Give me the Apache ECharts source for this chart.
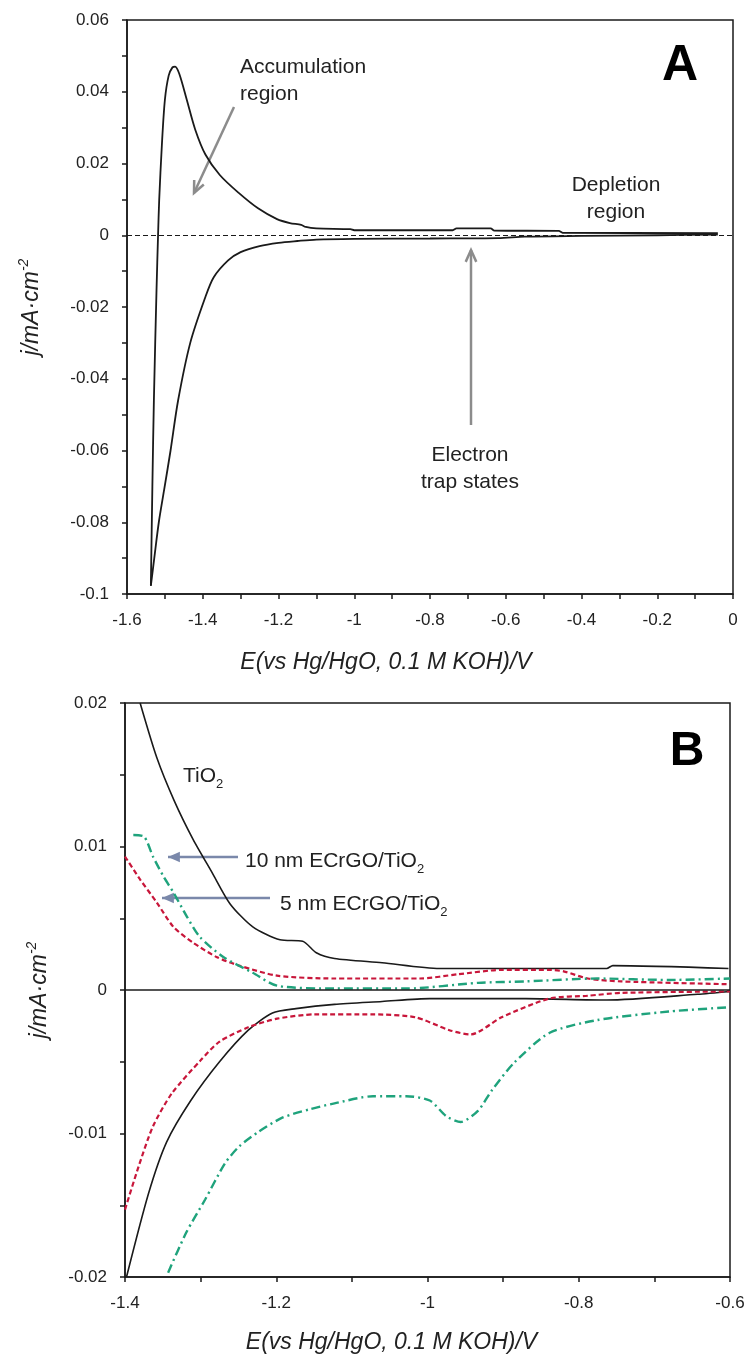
<!DOCTYPE html>
<html>
<head>
<meta charset="utf-8">
<script src="https://cdn.jsdelivr.net/npm/echarts@6/dist/echarts.min.js"></script>
<style>
  html, body { margin: 0; padding: 0; background: #fff; }
  #chart { width: 749px; height: 1358px; }
</style>
</head>
<body>
<div id="chart"></div>
<script>
// panel A : TiO2 CV, [E, j] pairs
let cvA_cathodic = [
    [-0.04, 0.0002], [-0.2, 0.0000], [-0.4, -0.0002], [-0.55, -0.0004], [-0.62, -0.0008],
    [-0.8, -0.0009], [-1.0, -0.0010], [-1.1, -0.0012], [-1.15, -0.0016], [-1.2, -0.0021],
    [-1.25, -0.0030], [-1.3, -0.0047], [-1.333, -0.0070], [-1.371, -0.0117], [-1.394, -0.0175],
    [-1.433, -0.0300], [-1.465, -0.0460], [-1.485, -0.0600], [-1.502, -0.0710], [-1.516, -0.0800],
    [-1.528, -0.0900], [-1.537, -0.0977]
];
let cvA_anodic = [
    [-1.537, -0.0977], [-1.533, -0.0700], [-1.529, -0.0460], [-1.522, -0.0150], [-1.518, 0.0000],
    [-1.515, 0.0098], [-1.508, 0.0250], [-1.500, 0.0377], [-1.490, 0.0445], [-1.480, 0.0468],
    [-1.473, 0.0470], [-1.462, 0.0450], [-1.442, 0.0377], [-1.420, 0.0295], [-1.393, 0.0225],
    [-1.355, 0.0168], [-1.305, 0.0118], [-1.254, 0.0075], [-1.204, 0.0045], [-1.17, 0.0034],
    [-1.14, 0.0029], [-1.128, 0.0023], [-1.10, 0.0019], [-1.01, 0.0017], [-1.0, 0.0014],
    [-0.74, 0.0014], [-0.73, 0.0019], [-0.64, 0.0019], [-0.63, 0.0013], [-0.46, 0.0012],
    [-0.45, 0.0007], [-0.04, 0.0006]
];

// panel B : TiO2, 5 nm and 10 nm ECrGO/TiO2
let tio2Upper = [
    [-1.380, 0.0200], [-1.358, 0.0162], [-1.335, 0.0132], [-1.310, 0.0105], [-1.285, 0.0082],
    [-1.261, 0.0060], [-1.231, 0.0044], [-1.195, 0.0035], [-1.165, 0.0034], [-1.147, 0.0026],
    [-1.123, 0.0022], [-1.060, 0.0019], [-0.984, 0.0015], [-0.763, 0.0015], [-0.755, 0.0017],
    [-0.602, 0.0015]
];
let tio2Lower = [
    [-1.398, -0.0200], [-1.369, -0.0142], [-1.345, -0.0106], [-1.313, -0.0077], [-1.275, -0.0050],
    [-1.237, -0.0028], [-1.205, -0.0016], [-1.174, -0.0013], [-1.123, -0.0010], [-1.060, -0.0008],
    [-0.997, -0.0006], [-0.870, -0.0006], [-0.763, -0.0007], [-0.643, -0.0003], [-0.600, -0.0001]
];
let red5Upper = [
    [-1.400, 0.0093], [-1.380, 0.0077], [-1.358, 0.0061], [-1.336, 0.0044], [-1.310, 0.0033],
    [-1.279, 0.0023], [-1.249, 0.0017], [-1.199, 0.0010], [-1.123, 0.0008], [-1.010, 0.0008],
    [-0.959, 0.0011], [-0.902, 0.0014], [-0.840, 0.0014], [-0.820, 0.0013], [-0.788, 0.0008],
    [-0.744, 0.0006], [-0.600, 0.0004]
];
let red5Lower = [
    [-1.400, -0.0153], [-1.382, -0.0123], [-1.363, -0.0095], [-1.338, -0.0072], [-1.300, -0.0049],
    [-1.275, -0.0036], [-1.237, -0.0026], [-1.199, -0.0020], [-1.149, -0.0017], [-1.072, -0.0017],
    [-1.016, -0.0019], [-0.971, -0.0028], [-0.943, -0.0031], [-0.902, -0.0019], [-0.839, -0.0006],
    [-0.788, -0.0004], [-0.744, -0.0002], [-0.600, -0.0001]
];
let green10Upper = [
    [-1.389, 0.0108], [-1.375, 0.0107], [-1.363, 0.0093], [-1.349, 0.0079], [-1.336, 0.0068],
    [-1.318, 0.0051], [-1.301, 0.0037], [-1.270, 0.0023], [-1.231, 0.0012], [-1.199, 0.0003],
    [-1.123, 0.0001], [-1.028, 0.0001], [-0.933, 0.0005], [-0.870, 0.0006], [-0.776, 0.0008],
    [-0.681, 0.0007], [-0.600, 0.0008]
];
let green10Lower = [
    [-1.343, -0.0197], [-1.319, -0.0169], [-1.294, -0.0146], [-1.268, -0.0121], [-1.249, -0.0109],
    [-1.224, -0.0099], [-1.192, -0.0089], [-1.155, -0.0083], [-1.123, -0.0079], [-1.072, -0.0074],
    [-1.028, -0.0074], [-0.997, -0.0077], [-0.975, -0.0088], [-0.956, -0.0092], [-0.933, -0.0084],
    [-0.915, -0.0070], [-0.886, -0.0051], [-0.839, -0.0030], [-0.776, -0.0021], [-0.681, -0.0015],
    [-0.600, -0.0012]
];

let FONT = 'Liberation Sans, Arial, sans-serif';
let INK = '#1a1a1a';

function xAxisOf(grid, min, max, gap, pad){
    return {
        type: 'value', gridIndex: grid, min: min, max: max, interval: 0.2,
        axisLine: { onZero: false, lineStyle: { color: INK, width: 1.5 } },
        axisTick: { length: 5, lineStyle: { color: INK, width: 1.5 } },
        minorTick: { show: true, splitNumber: 2, length: 5, lineStyle: { color: INK, width: 1.5 } },
        splitLine: { show: false },
        axisLabel: { color: '#222', fontSize: 17, fontFamily: FONT, margin: 18 },
        name: 'E(vs Hg/HgO, 0.1 M KOH)/V',
        nameLocation: 'middle', nameGap: gap,
        nameTextStyle: { color: '#222', fontSize: 23, fontStyle: 'italic', fontFamily: FONT, padding: [0, pad, 0, 0] }
    };
}

function yAxisOf(grid, min, max, step, gap){
    return {
        type: 'value', gridIndex: grid, min: min, max: max, interval: step,
        axisLine: { onZero: false, lineStyle: { color: INK, width: 1.5 } },
        axisTick: { length: 5, lineStyle: { color: INK, width: 1.5 } },
        minorTick: { show: true, splitNumber: 2, length: 5, lineStyle: { color: INK, width: 1.5 } },
        splitLine: { show: false },
        axisLabel: { color: '#222', fontSize: 17, fontFamily: FONT, margin: 18 },
        name: 'j/mA·cm{sup|-2}',
        nameLocation: 'middle', nameGap: gap,
        nameTextStyle: {
            color: '#222', fontSize: 23, fontStyle: 'italic', fontFamily: FONT, lineHeight: 30,
            rich: { sup: { fontSize: 14, fontStyle: 'italic', fontFamily: FONT, verticalAlign: 'top', lineHeight: 14, color: '#222' } }
        }
    };
}

function line(name, data, xi, color, width, type, smooth){
    return {
        name: name, type: 'line', xAxisIndex: xi, yAxisIndex: xi, data: data,
        showSymbol: false, symbol: 'none', smooth: smooth, animation: false,
        lineStyle: { color: color, width: width, type: type }
    };
}

// arrow from (x1,y1) to the tip (x2,y2)
function arrow(x1, y1, x2, y2, color, filled){
    let a = Math.atan2(y2 - y1, x2 - x1);
    let L = 13, h = 0.42;
    let p1 = [x2 - L * Math.cos(a - h), y2 - L * Math.sin(a - h)];
    let p2 = [x2 - L * Math.cos(a + h), y2 - L * Math.sin(a + h)];
    let head = filled
        ? { type: 'polygon', shape: { points: [p1, [x2, y2], p2] }, style: { fill: color } }
        : { type: 'polyline', shape: { points: [p1, [x2, y2], p2] }, style: { stroke: color, lineWidth: 2.5, fill: null } };
    return [
        { type: 'line', shape: { x1: x1, y1: y1, x2: x2, y2: y2 }, style: { stroke: color, lineWidth: 2.5 } },
        head
    ];
}

function label(x, y, text, extra){
    let st = Object.assign({ text: text, fontSize: 21, fontFamily: FONT, fill: '#222', align: 'center', verticalAlign: 'middle', lineHeight: 27 }, extra || {});
    return { type: 'text', x: x, y: y, style: st };
}

let gray = '#8c8c8c';
let slate = '#7a88aa';
let subRich = { s: { fontSize: 13, fontFamily: FONT, fill: '#222', verticalAlign: 'bottom', lineHeight: 13 } };

let graphics = [].concat(
    arrow(234, 107, 194, 193, gray, false),
    arrow(471, 425, 471, 250, gray, false),
    arrow(238, 857, 168, 857, slate, true),
    arrow(270, 898, 162, 898, slate, true),
    [
        label(240, 81, 'Accumulation\nregion', { align: 'left' }),
        label(616, 199, 'Depletion\nregion'),
        label(470, 469, 'Electron\ntrap states'),
        label(680, 66, 'A', { fontSize: 50, fontWeight: 'bold', fill: '#000' }),
        label(687, 752, 'B', { fontSize: 48, fontWeight: 'bold', fill: '#000' }),
        label(183, 776, 'TiO{s|2}', { align: 'left', lineHeight: 30, rich: subRich }),
        label(245, 861, '10 nm ECrGO/TiO{s|2}', { align: 'left', lineHeight: 30, rich: subRich }),
        label(280, 904, '5 nm ECrGO/TiO{s|2}', { align: 'left', lineHeight: 30, rich: subRich })
    ]
);

let myChart = echarts.init(document.getElementById('chart'));

let zeroA = {
    silent: true, symbol: 'none', label: { show: false },
    lineStyle: { color: INK, width: 1.2, type: [5, 3] }, data: [{ yAxis: 0 }]
};
let zeroB = {
    silent: true, symbol: 'none', label: { show: false },
    lineStyle: { color: INK, width: 1.6, type: 'solid' }, data: [{ yAxis: 0 }]
};

let sA1 = line('A cathodic', cvA_cathodic, 0, INK, 1.8, 'solid', 0.3);
sA1.markLine = zeroA;
let sA2 = line('A anodic', cvA_anodic, 0, INK, 1.8, 'solid', 0.3);
let sB1 = line('TiO2 upper', tio2Upper, 1, INK, 1.6, 'solid', 0.25);
sB1.markLine = zeroB;

let option = {
    backgroundColor: '#fff',
    animation: false,
    grid: [
        { left: 127, top: 20, width: 606, height: 574, show: true, borderColor: INK, borderWidth: 1.5 },
        { left: 125, top: 703, width: 605, height: 574, show: true, borderColor: INK, borderWidth: 1.5 }
    ],
    xAxis: [xAxisOf(0, -1.6, 0, 57, 88), xAxisOf(1, -1.4, -0.6, 54, 72)],
    yAxis: [yAxisOf(0, -0.1, 0.06, 0.02, 80), yAxisOf(1, -0.02, 0.02, 0.01, 70)],
    series: [
        sA1, sA2,
        sB1,
        line('TiO2 lower', tio2Lower, 1, INK, 1.6, 'solid', 0.25),
        line('5 nm upper', red5Upper, 1, '#c8163a', 2.2, [5, 3], 0.25),
        line('5 nm lower', red5Lower, 1, '#c8163a', 2.2, [5, 3], 0.25),
        line('10 nm upper', green10Upper, 1, '#1fa37c', 2.4, [9, 4, 2, 4], 0.25),
        line('10 nm lower', green10Lower, 1, '#1fa37c', 2.4, [9, 4, 2, 4], 0.25)
    ],
    graphic: graphics
};

myChart.setOption(option);
</script>
</body>
</html>
